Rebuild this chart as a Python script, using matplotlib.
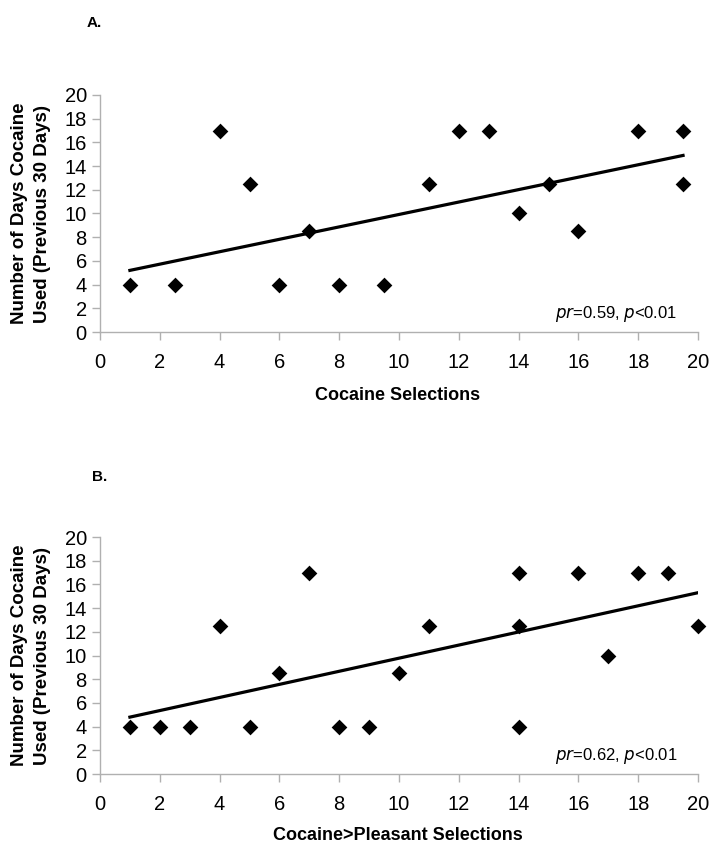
import matplotlib.pyplot as plt
from matplotlib import font_manager

# data
a_sel = [1, 2.5, 4, 5, 6, 7, 8, 9.5, 11, 12, 13, 14, 15, 16, 18, 19.5, 19.5]
a_days = [4, 4, 17, 12.5, 4, 8.5, 4, 4, 12.5, 17, 17, 10, 12.5, 8.5, 17, 17, 12.5]
a_fit_x = [1, 19.5]
a_fit_y = [5.2, 14.9]

b_sel = [1, 2, 3, 4, 5, 6, 7, 8, 9, 10, 11, 14, 14, 14, 16, 17, 18, 19, 20]
b_days = [4, 4, 4, 12.5, 4, 8.5, 17, 4, 4, 8.5, 12.5, 17, 12.5, 4, 17, 10, 17, 17, 12.5]
b_fit_x = [1, 20]
b_fit_y = [4.8, 15.3]

ticks = list(range(0, 21, 2))

names = {f.name for f in font_manager.fontManager.ttflist}
narrow = 'Liberation Sans Narrow' if 'Liberation Sans Narrow' in names else 'Liberation Sans'
plt.rcParams['font.family'] = ['Liberation Sans', 'DejaVu Sans']

fig = plt.figure(figsize=(7.19, 8.55), dpi=100)
W, H = 719, 855


def panel(bottom_px, top_px, x, y, fx, fy, letter, letter_xy, xlabel, xlabel_y, note):
    ax = fig.add_axes([100 / W, 1 - bottom_px / H, 598 / W, (bottom_px - top_px) / H])
    ax.scatter(x, y, marker='D', s=8 ** 2, color='black', zorder=3, linewidths=0, clip_on=False)
    ax.plot(fx, fy, color='black', lw=2.3, zorder=2)
    ax.set_xlim(0, 20)
    ax.set_ylim(0, 20)
    ax.set_xticks(ticks)
    ax.set_yticks(ticks)
    for s in ['top', 'right']:
        ax.spines[s].set_visible(False)
    for s in ['left', 'bottom']:
        ax.spines[s].set_color('#b0b0b0')
        ax.spines[s].set_linewidth(1)
    ax.tick_params(colors='#b0b0b0', length=6, width=1, labelcolor='black', labelsize=14.5)
    ax.tick_params(axis='x', pad=9)
    for lab in ax.get_xticklabels() + ax.get_yticklabels():
        lab.set_fontfamily(narrow)
    ax.text(0.965, 0.06, note, transform=ax.transAxes, ha='right', va='baseline', fontsize=12)
    fig.text(letter_xy[0] / W, 1 - letter_xy[1] / H, letter, fontsize=11, fontweight='bold',
             ha='left', va='center')
    fig.text(398 / W, 1 - xlabel_y / H, xlabel, fontsize=13, fontweight='bold', ha='center', va='center')
    fig.text(31 / W, 1 - (top_px + bottom_px) / 2 / H,
             'Number of Days Cocaine\nUsed (Previous 30 Days)', rotation=90, fontsize=13.5,
             fontweight='bold', ha='center', va='center', multialignment='center', linespacing=1.45)
    return ax


panel(332, 95, a_sel, a_days, a_fit_x, a_fit_y, 'A.', (87, 23), 'Cocaine Selections', 395,
      '$\\it{pr}$=0.59, $\\it{p}$<0.01')
panel(774, 537, b_sel, b_days, b_fit_x, b_fit_y, 'B.', (92, 477), 'Cocaine>Pleasant Selections', 835,
      '$\\it{pr}$=0.62, $\\it{p}$<0.01')

fig.savefig('out.png', dpi=100)
